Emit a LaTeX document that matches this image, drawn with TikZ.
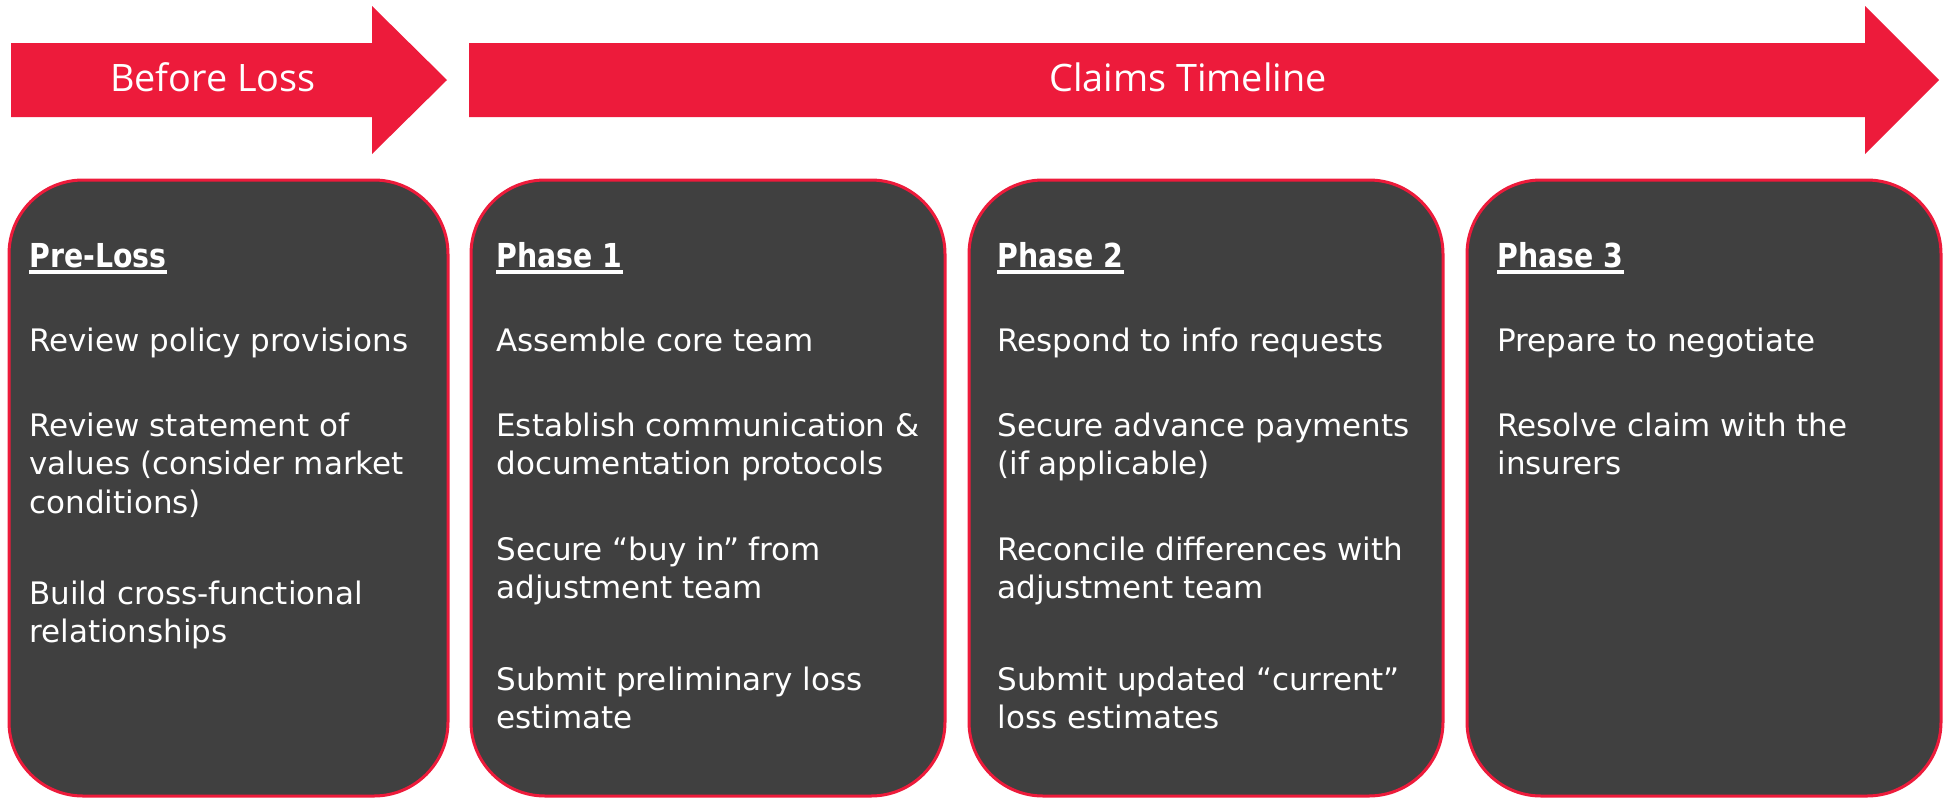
\documentclass[tikz,border=0pt]{standalone}
\usepackage{fontspec}
\setmainfont{DejaVu Sans}
\newfontfamily\headfont[FakeStretch=0.86]{DejaVu Sans}
\newfontfamily\bannerfont{Open Sans}
\definecolor{bannerred}{RGB}{237,27,59}
\definecolor{panelgray}{RGB}{64,64,64}

\begin{document}
\begin{tikzpicture}[x=0.5pt,y=-0.5pt,
  banner/.style={fill=bannerred, draw=none},
  bannerlabel/.style={text=white, font=\bannerfont\fontsize{18.9pt}{22pt}\selectfont, inner sep=0pt, anchor=base},
  panel/.style={rectangle, draw=bannerred, fill=panelgray, line width=1.5pt, rounded corners=37pt, inner sep=0pt, anchor=north west, minimum height=308pt},
  heading/.style={text=white, font=\headfont\bfseries\fontsize{16.5pt}{20pt}\selectfont, inner sep=0pt, anchor=base west},
  item/.style={text=white, font=\fontsize{15.5pt}{18pt}\selectfont, inner sep=0pt, anchor=base west},
  rule/.style={draw=white, line width=2pt}
]
\useasboundingbox (0,0) rectangle (1954,798);

% banner arrows
\fill[banner] (11,43) -- (372,43) -- (372,6) -- (447,80) -- (372,154) -- (372,117) -- (11,117) -- cycle;
\fill[banner] (469,43) -- (1865,43) -- (1865,6) -- (1939,80) -- (1865,154) -- (1865,117) -- (469,117) -- cycle;
\node[bannerlabel] (before) at (213,91) {Before Loss};
\node[bannerlabel] (claims) at (1188,91) {Claims Timeline};

% panels
\node[panel, minimum width=219.5pt] (p0) at (7.5,178.5) {};
\node[panel, minimum width=237pt] (p1) at (469.5,178.5) {};
\node[panel, minimum width=237pt] (p2) at (967.5,178.5) {};
\node[panel, minimum width=237pt] (p3) at (1465.5,178.5) {};

% Pre-Loss
\node[heading] (h0) at (29,267) {Pre-Loss};
\draw[rule] ([yshift=-2.5pt]h0.base west) -- ([yshift=-2.5pt]h0.base east);
\node[item] (a1) at (29,351) {Review policy provisions};
\node[item] (a2) at (29,436) {Review statement of};
\node[item] (a3) at (29,474.5) {values (consider market};
\node[item] (a4) at (29,513) {conditions)};
\node[item] (a5) at (29,604) {Build cross-functional};
\node[item] (a6) at (29,642.5) {relationships};

% Phase 1
\node[heading] (h1) at (496,267) {Phase 1};
\draw[rule] ([yshift=-2.5pt]h1.base west) -- ([yshift=-2.5pt]h1.base east);
\node[item] (b1) at (496,351) {Assemble core team};
\node[item] (b2) at (496,436) {Establish communication \&};
\node[item] (b3) at (496,474.5) {documentation protocols};
\node[item] (b4) at (496,560) {Secure “buy in” from};
\node[item] (b5) at (496,598.5) {adjustment team};
\node[item] (b6) at (496,690) {Submit preliminary loss};
\node[item] (b7) at (496,728.5) {estimate};

% Phase 2
\node[heading] (h2) at (997,267) {Phase 2};
\draw[rule] ([yshift=-2.5pt]h2.base west) -- ([yshift=-2.5pt]h2.base east);
\node[item] (c1) at (997,351) {Respond to info requests};
\node[item] (c2) at (997,436) {Secure advance payments};
\node[item] (c3) at (997,474.5) {(if applicable)};
\node[item] (c4) at (997,560) {Reconcile differences with};
\node[item] (c5) at (997,598.5) {adjustment team};
\node[item] (c6) at (997,690) {Submit updated “current”};
\node[item] (c7) at (997,728.5) {loss estimates};

% Phase 3
\node[heading] (h3) at (1497,267) {Phase 3};
\draw[rule] ([yshift=-2.5pt]h3.base west) -- ([yshift=-2.5pt]h3.base east);
\node[item] (d1) at (1497,351) {Prepare to negotiate};
\node[item] (d2) at (1497,436) {Resolve claim with the};
\node[item] (d3) at (1497,474.5) {insurers};
\end{tikzpicture}
\end{document}
